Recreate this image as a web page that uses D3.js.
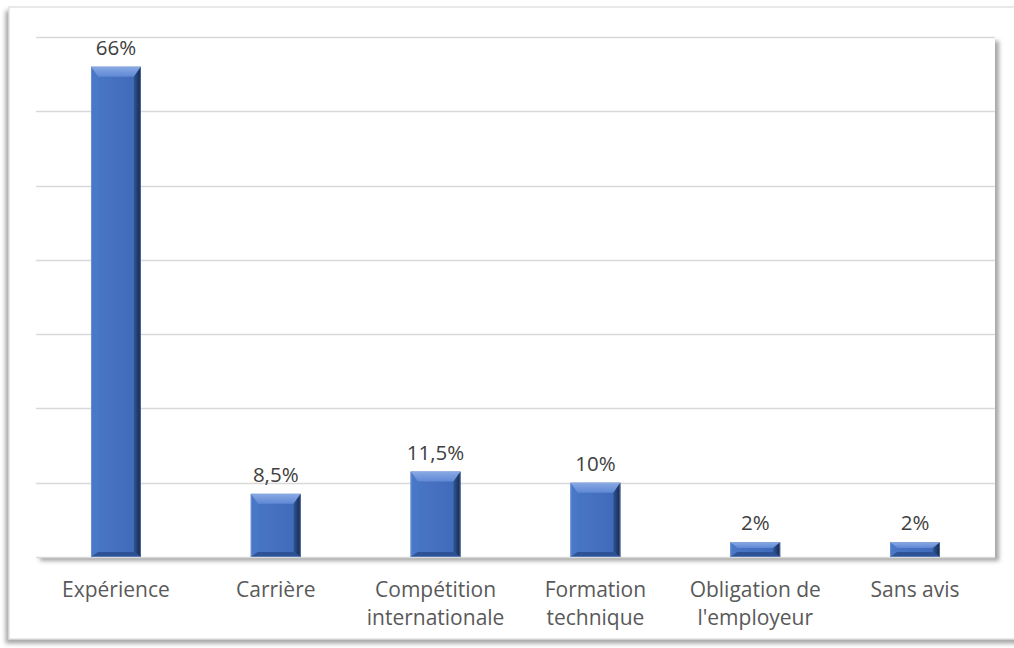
<!DOCTYPE html>
<html><head><meta charset="utf-8">
<script src="https://cdn.jsdelivr.net/npm/d3@7"></script>
<style>html,body{margin:0;padding:0;background:#fff;}svg{display:block;}</style>
</head><body>
<svg id="c" width="1014" height="648"></svg>
<script>
const categories = [["Expérience"],["Carrière"],["Compétition","internationale"],["Formation","technique"],["Obligation de","l'employeur"],["Sans avis"]];
const values = [66, 8.5, 11.5, 10, 2, 2];
const valueLabels = ["66%","8,5%","11,5%","10%","2%","2%"];
const yTicks = [0,10,20,30,40,50,60,70];

const svg = d3.select("#c");
const defs = svg.append("defs");
const f1 = defs.append("filter").attr("id","ps").attr("x","-5%").attr("y","-5%").attr("width","110%").attr("height","115%");
f1.append("feDropShadow").attr("dx",4).attr("dy",4).attr("stdDeviation",2).attr("flood-color","#000").attr("flood-opacity",0.35);
const f2 = defs.append("filter").attr("id","os").attr("x","-5%").attr("y","-5%").attr("width","110%").attr("height","110%");
f2.append("feDropShadow").attr("dx",-3).attr("dy",4).attr("stdDeviation",2).attr("flood-color","#000").attr("flood-opacity",0.35);

const gt = defs.append("linearGradient").attr("id","gtop").attr("x1",0).attr("y1",0).attr("x2",0).attr("y2",1);
gt.append("stop").attr("offset","0%").attr("stop-color","#89a9e4");
gt.append("stop").attr("offset","100%").attr("stop-color","#5f88d4");
const gr = defs.append("linearGradient").attr("id","gright").attr("x1",0).attr("y1",0).attr("x2",1).attr("y2",0);
gr.append("stop").attr("offset","0%").attr("stop-color","#2f5597");
gr.append("stop").attr("offset","100%").attr("stop-color","#142849");
const gb = defs.append("linearGradient").attr("id","gbody").attr("x1",0).attr("y1",0).attr("x2",1).attr("y2",0);
gb.append("stop").attr("offset","0%").attr("stop-color","#4a77c7");
gb.append("stop").attr("offset","100%").attr("stop-color","#4069b8");

// outer frame
svg.append("rect").attr("x",9).attr("y",7).attr("width",1020).attr("height",632)
  .attr("fill","#fff").attr("stroke","#d4d4d4").attr("stroke-width",1).attr("filter","url(#os)");

const L = 36, R = 995, T = 37, B = 557;
const x = d3.scaleBand().domain(d3.range(categories.length)).range([L,R]).paddingInner(0.688).paddingOuter(0.344);
const y = d3.scaleLinear().domain([0,70]).range([B,T]);

// plot area
svg.append("rect").attr("x",L).attr("y",T).attr("width",R-L).attr("height",B-T)
  .attr("fill","#fff").attr("filter","url(#ps)");

// gridlines
svg.append("g").selectAll("line").data(yTicks).join("line")
  .attr("x1",L).attr("x2",R).attr("y1",d=>Math.round(y(d))+0.5).attr("y2",d=>Math.round(y(d))+0.5)
  .attr("stroke","#d9d9d9").attr("stroke-width",1.5);

// bars with bevel
const g = svg.append("g");
values.forEach((v,i)=>{
  const x0 = x(i), w = x.bandwidth(), x1 = x0+w;
  const y0 = y(v), y1 = y(0);
  const h = y1-y0;
  const bt = Math.min(10, h/2.5), bb = Math.min(5, h/3), bs = Math.min(7, w/4);
  const bg = g.append("g");
  bg.append("rect").attr("x",x0).attr("y",y0).attr("width",w).attr("height",h).attr("fill","url(#gbody)");
  bg.append("polygon").attr("points",[[x0,y0],[x1,y0],[x1-bs,y0+bt],[x0+bs,y0+bt]].join(" ")).attr("fill","url(#gtop)");
  bg.append("polygon").attr("points",[[x0,y0],[x0+bs,y0+bt],[x0+bs,y1-bb],[x0,y1]].join(" ")).attr("fill","#4a78c9");
  bg.append("polygon").attr("points",[[x1,y0],[x1-bs,y0+bt],[x1-bs,y1-bb],[x1,y1]].join(" ")).attr("fill","url(#gright)");
  bg.append("polygon").attr("points",[[x0,y1],[x0+bs,y1-bb],[x1-bs,y1-bb],[x1,y1]].join(" ")).attr("fill","#2d5296");
  bg.append("rect").attr("x",x0+0.5).attr("y",y0+0.5).attr("width",w-1).attr("height",h-1).attr("fill","none").attr("stroke","#8faadc").attr("stroke-opacity",0.45).attr("stroke-width",1);
});

const FONT = "'Open Sans', Lato, sans-serif";
// value labels
svg.append("g").selectAll("text").data(values).join("text")
  .attr("x",(d,i)=>x(i)+x.bandwidth()/2).attr("y",d=>y(d)-12)
  .attr("text-anchor","middle").attr("font-family",FONT).attr("font-size",20.5)
  .attr("fill","#404040").text((d,i)=>valueLabels[i]);

// category labels
const cg = svg.append("g");
categories.forEach((lines,i)=>{
  const t = cg.append("text").attr("x",x(i)+x.bandwidth()/2).attr("y",597)
    .attr("text-anchor","middle").attr("font-family",FONT).attr("font-size",21).attr("fill","#595959");
  lines.forEach((s,k)=>t.append("tspan").attr("x",x(i)+x.bandwidth()/2).attr("dy",k===0?0:28).text(s));
});
</script>
</body></html>
